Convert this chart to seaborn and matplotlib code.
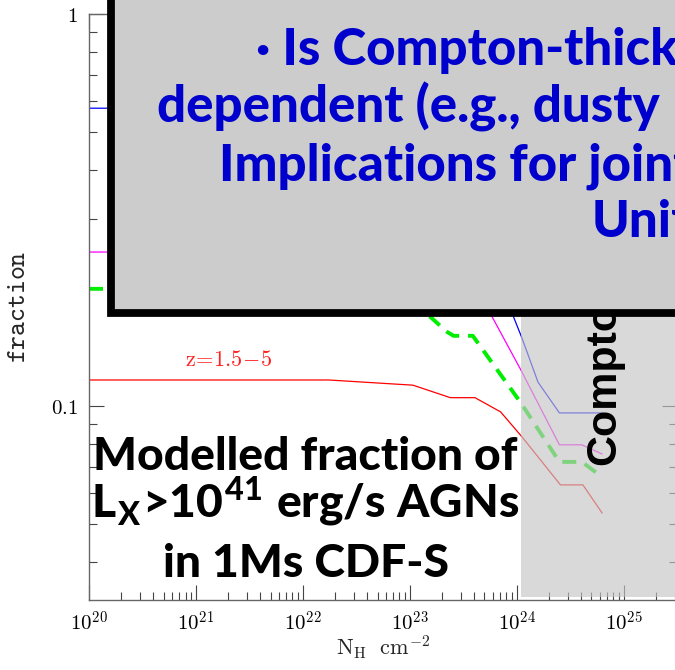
import numpy as np
import pandas as pd
import matplotlib
matplotlib.use("Agg")
import matplotlib.pyplot as plt
import seaborn as sns
from matplotlib.patches import Rectangle
from matplotlib.ticker import LogLocator, NullFormatter

# Modelled obscured fraction versus column density (log10 N_H in cm^-2)
log_nh_blue = [20.0, 22.0, 22.6, 23.0, 23.4, 23.97, 24.05, 24.20, 24.40, 24.61, 24.80]
frac_blue = [0.575, 0.575, 0.55, 0.50, 0.36, 0.169, 0.149, 0.115, 0.096, 0.096, 0.096]

log_nh_magenta = [20.0, 22.0, 22.8, 23.3, 23.77, 24.04, 24.40, 24.61, 24.80]
frac_magenta = [0.247, 0.247, 0.235, 0.21, 0.169, 0.1235, 0.0796, 0.0796, 0.0754]

log_nh_green = [20.0, 22.0, 22.7, 23.19, 23.35, 23.41, 23.59, 24.04, 24.40, 24.61, 24.80]
frac_green = [0.199, 0.199, 0.19, 0.169, 0.1545, 0.151, 0.151, 0.1018, 0.0720, 0.0720, 0.0659]

log_nh_red = [20.0, 22.24, 23.03, 23.38, 23.61, 23.85, 24.05, 24.41, 24.62, 24.80]
frac_red = [0.1165, 0.1165, 0.113, 0.105, 0.105, 0.0966, 0.0834, 0.0629, 0.0629, 0.0533]

x_tick_exponents = [20, 21, 22, 23, 24, 25]
y_tick_values = [0.1, 1]
y_tick_labels = [r"$0.1$", r"$1$"]

compton_thick_log_nh = 24.04

series = {
    "blue": (log_nh_blue, frac_blue),
    "magenta": (log_nh_magenta, frac_magenta),
    "green": (log_nh_green, frac_green),
    "red": (log_nh_red, frac_red),
}
rows = []
for name, (lognh, fr) in series.items():
    for l, f in zip(lognh, fr):
        rows.append({"curve": name, "nh": 10.0 ** l, "fraction": f})
df = pd.DataFrame(rows)

sns.set_theme(style="ticks")
plt.rcParams["mathtext.fontset"] = "cm"
plt.rcParams["font.family"] = ["DejaVu Sans"]

W, H = 675, 670
fig = plt.figure(figsize=(W / 100, H / 100), dpi=100)
fig.patch.set_facecolor("white")


def fx(px):
    return px / W


def fy(py):
    return 1 - py / H


ax = fig.add_axes([fx(89), fy(600), (677 - 89) / W, (600 - 14) / H])
ax.set_facecolor("white")

styles = {
    "blue": dict(color="#0000ff", lw=0.9),
    "magenta": dict(color="#ff00ff", lw=0.9),
    "green": dict(color="#00ee00", lw=2.8, dashes=(3.6, 2.3)),
    "red": dict(color="#ff0000", lw=0.9),
}
for name, st in styles.items():
    sub = df[df["curve"] == name]
    sns.lineplot(data=sub, x="nh", y="fraction", ax=ax, legend=False,
                 color=st["color"], linewidth=st["lw"], zorder=2)
    if "dashes" in st:
        ax.lines[-1].set_dashes(st["dashes"])

ax.set_xscale("log")
ax.set_yscale("log")
ax.set_xlim(1e20, 10 ** 25.5)
ax.set_ylim(10 ** -1.495, 1.0)

# Compton-thick regime
ax.axvspan(10 ** compton_thick_log_nh, 10 ** 25.5, ymin=0.005, ymax=1,
           color="#c5c5c5", alpha=0.65, lw=0, zorder=2.2)

ax.set_xticks([10.0 ** e for e in x_tick_exponents],
              labels=[rf"$10^{{{e}}}$" for e in x_tick_exponents])
ax.xaxis.set_minor_locator(LogLocator(base=10, subs=np.arange(2, 10), numticks=100))
ax.xaxis.set_minor_formatter(NullFormatter())
ax.set_yticks(y_tick_values, labels=y_tick_labels)
ax.yaxis.set_minor_locator(LogLocator(base=10, subs=np.arange(2, 10), numticks=100))
ax.yaxis.set_minor_formatter(NullFormatter())

ax.tick_params(which="both", direction="in", top=True, right=True,
               color="#444444", width=0.8, labelsize=15, pad=8, labelcolor="black")
ax.tick_params(which="major", length=10.5)
ax.tick_params(which="minor", length=5.5)
for sp in ax.spines.values():
    sp.set_color("#666666")
    sp.set_linewidth(1.0)

ax.set_xlabel(r"$\mathrm{N_H\ \ cm^{-2}}$", fontsize=16)
ax.xaxis.set_label_coords(0.5, (600 - 634) / 586)
ax.set_ylabel(r"$\mathtt{fraction}$", fontsize=19)
ax.yaxis.set_label_coords((31 - 89) / 588, 0.5)

fig.text(fx(185), fy(366), r"$\mathrm{z\!=\!1.5\!-\!5}$", color="#ff2020",
         fontsize=16, ha="left", va="baseline")

fig.text(fx(615), fy(465), "Compton", rotation=90, rotation_mode="anchor",
         ha="left", va="baseline", fontsize=31, fontweight="bold",
         family=["Liberation Sans", "DejaVu Sans"], color="black", zorder=3)

# Caption, sized so the first line spans its column
big_font = dict(family=["Lato", "DejaVu Sans"], fontweight="black")
renderer = fig.canvas.get_renderer()


def fitted_size(s, width_px):
    probe = fig.text(0, 0, s, fontsize=20, **big_font)
    w = probe.get_window_extent(renderer).width
    probe.remove()
    return 20 * width_px / w


big_size = fitted_size("Modelled fraction of", 425)
panel_size = fitted_size("Implications for join", 456)

fig.text(fx(305), fy(470), "Modelled fraction of", fontsize=big_size,
         ha="center", va="baseline", color="black", zorder=4, **big_font)
fig.text(fx(305), fy(518), r"L$_\mathregular{X}$>10$^\mathregular{41}$ erg/s AGNs",
         fontsize=big_size, ha="center", va="baseline", color="black", zorder=4,
         **big_font)
fig.text(fx(306), fy(577), "in 1Ms CDF-S", fontsize=big_size,
         ha="center", va="baseline", color="black", zorder=4, **big_font)

# Question panel
panel = Rectangle((fx(111), fy(313.5)), (W + 60) / W, 400 / H,
                  transform=fig.transFigure, facecolor="#cccccc",
                  edgecolor="black", linewidth=5.6, zorder=5)
fig.add_artist(panel)

blue = "#0000cc"
panel_lines = [
    (256, 65, "\u00b7 Is Compton-thick"),
    (157, 122, "dependent (e.g., dusty"),
    (219, 180, "Implications for joint"),
    (592, 237, "Unification"),
]
for px, py, s in panel_lines:
    fig.text(fx(px), fy(py), s, fontsize=panel_size, ha="left", va="baseline",
             color=blue, zorder=6, **big_font)

fig.savefig("out.png", dpi=100)
